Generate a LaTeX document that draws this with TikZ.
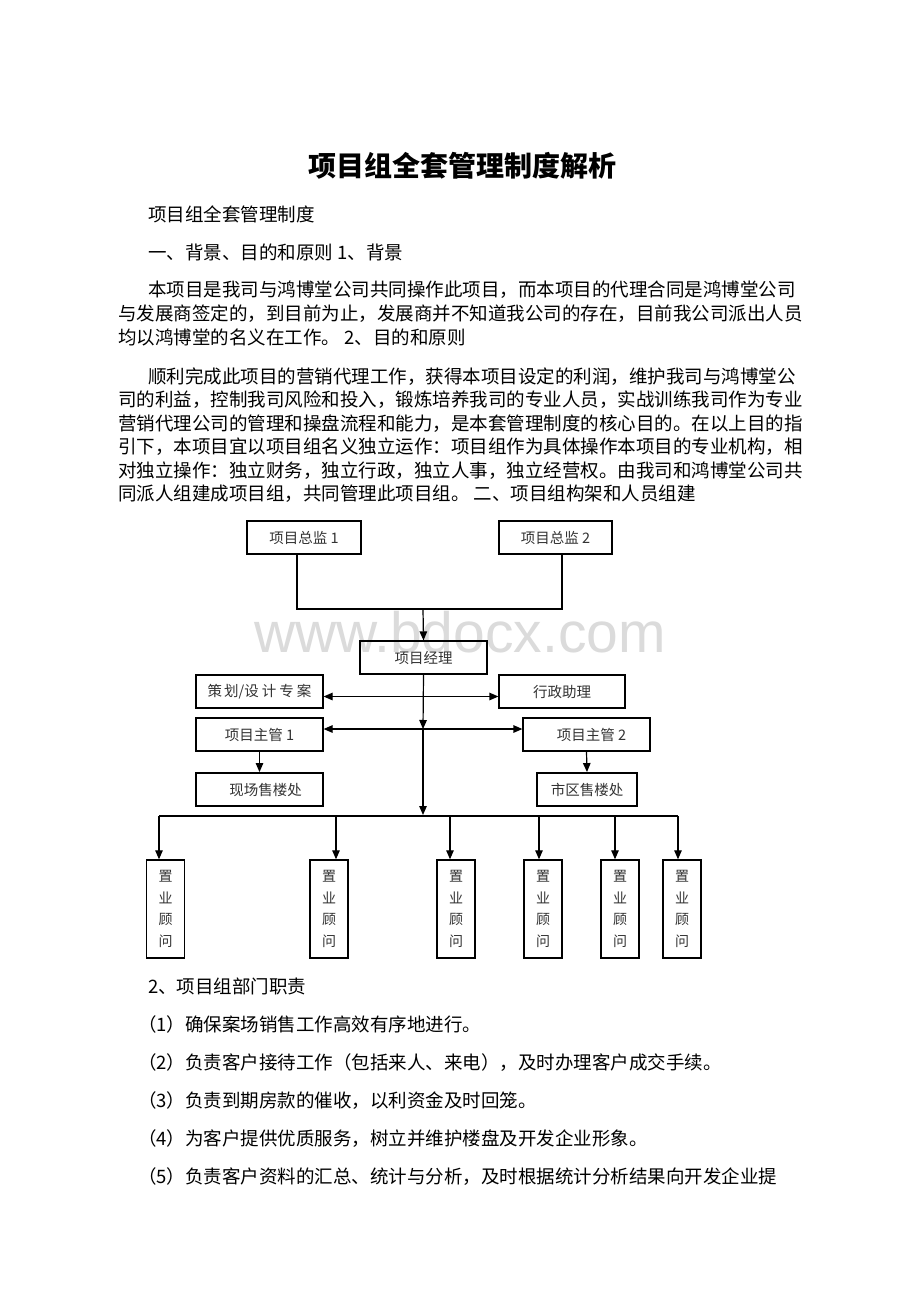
\documentclass[tikz,border=0pt]{standalone}
\usepackage{fontspec}
\setmainfont{Noto Sans CJK SC}
\newfontfamily\wmfont{Liberation Sans}
\usetikzlibrary{arrows.meta}
\begin{document}
\begin{tikzpicture}[x=1pt,y=-1pt,
  txt/.style={anchor=base west, inner sep=0pt, font=\fontsize{18.5}{20}\selectfont},
  box/.style={draw, line width=1.2pt, inner sep=0pt, minimum height=33pt,
              font=\fontsize{14.5}{16}\selectfont, text=black!80},
  boldbox/.style={box, line width=1.9pt},
  vbox/.style={draw, line width=1.4pt, inner sep=0pt, minimum width=38pt, minimum height=98pt,
               align=center, font=\fontsize{14}{21.7}\selectfont, text=black!80},
  ln/.style={line width=1.2pt},
  arr/.style={ln, -{Triangle[length=9pt,width=7.5pt]}},
  darr/.style={ln, {Triangle[length=9pt,width=7.5pt]}-{Triangle[length=9pt,width=7.5pt]}}]
\useasboundingbox (0,0) rectangle (920,1302);
\fill[white] (0,0) rectangle (920,1302);

% title
\node[anchor=base, inner sep=0pt, font=\fontsize{28}{30}\selectfont\bfseries] (title) at (462,176) {项目组全套管理制度解析};

% body text (baseline = visual centre + 7)
\node[txt] (l1) at (148,221) {项目组全套管理制度};
\node[txt] (l2) at (148,259) {一、背景、目的和原则 1、背景};
\node[txt] (p1a) at (148,296) {本项目是我司与鸿博堂公司共同操作此项目，而本项目的代理合同是鸿博堂公司};
\node[txt] (p1b) at (118,320) {与发展商签定的，到目前为止，发展商并不知道我公司的存在，目前我公司派出人员};
\node[txt] (p1c) at (118,344) {均以鸿博堂的名义在工作。 2、目的和原则};
\node[txt] (p2a) at (148,383) {顺利完成此项目的营销代理工作，获得本项目设定的利润，维护我司与鸿博堂公};
\node[txt] (p2b) at (118,406.5) {司的利益，控制我司风险和投入，锻炼培养我司的专业人员，实战训练我司作为专业};
\node[txt] (p2c) at (118,430) {营销代理公司的管理和操盘流程和能力，是本套管理制度的核心目的。在以上目的指};
\node[txt] (p2d) at (118,453.5) {引下，本项目宜以项目组名义独立运作：项目组作为具体操作本项目的专业机构，相};
\node[txt] (p2e) at (118,477) {对独立操作：独立财务，独立行政，独立人事，独立经营权。由我司和鸿博堂公司共};
\node[txt] (p2f) at (118,500.5) {同派人组建成项目组，共同管理此项目组。 二、项目组构架和人员组建};

\node[txt] (s2) at (148,993) {2、项目组部门职责};
\node[txt] (r1) at (138,1031) {（1）确保案场销售工作高效有序地进行。};
\node[txt] (r2) at (138,1069) {（2）负责客户接待工作（包括来人、来电），及时办理客户成交手续。};
\node[txt] (r3) at (138,1107) {（3）负责到期房款的催收，以利资金及时回笼。};
\node[txt] (r4) at (138,1145) {（4）为客户提供优质服务，树立并维护楼盘及开发企业形象。};
\node[txt] (r5) at (138,1183) {（5）负责客户资料的汇总、统计与分析，及时根据统计分析结果向开发企业提};

% watermark
\node[anchor=base, inner sep=0pt, text=black!14, font=\wmfont\fontsize{57}{60}\selectfont] (wm) at (460,652) {www.bdocx.com};

% chart boxes
\node[box, minimum width=114pt] (d1) at (304,537.5) {项目总监 1};
\node[box, minimum width=113pt] (d2) at (555.5,537.5) {项目总监 2};
\node[box, minimum width=127pt] (pm) at (423.5,657.5) {项目经理};
\node[box, minimum width=127pt] (ch) at (259.5,691.5) {策\hspace{2pt}划/设\hspace{3pt}计\hspace{3pt}专\hspace{3pt}案};
\node[box, minimum width=126pt] (xz) at (562,691.5) {行政助理};
\node[box, minimum width=127pt] (zg1) at (259.5,734.5) {项目主管 1};
\node[box, minimum width=127pt] (zg2) at (586.5,734.5) {\hspace{10pt}项目主管 2};
\node[boldbox, minimum width=127pt] (xc) at (259.5,789.5) {\hspace{12pt}现场售楼处};
\node[boldbox, minimum width=100pt] (sq) at (587,789.5) {市区售楼处};

\node[vbox] (c1) at (165.5,909) {置\\业\\顾\\问};
\node[vbox] (c2) at (329,909) {置\\业\\顾\\问};
\node[vbox] (c3) at (456,909) {置\\业\\顾\\问};
\node[vbox] (c4) at (543,909) {置\\业\\顾\\问};
\node[vbox] (c5) at (620,909) {置\\业\\顾\\问};
\node[vbox] (c6) at (682,909) {置\\业\\顾\\问};

% connector points
\coordinate (m) at (423,609);
\coordinate (mid) at (423,729);
\coordinate (bus) at (423,815);
\coordinate (t1) at (159,816);
\coordinate (t2) at (336,816);
\coordinate (t3) at (450,816);
\coordinate (t4) at (539,816);
\coordinate (t5) at (615,816);
\coordinate (t6) at (678,816);

% connectors
\draw[ln] ([xshift=-7pt]d1.south) |- (m) -| ([xshift=6.5pt]d2.south);
\draw[arr] (m) -- (pm.north);
\draw[darr] ([yshift=-5pt]ch.east) -- ([yshift=-5pt]xz.west);
\draw[darr] ([yshift=5.5pt]zg1.east) -- ([yshift=5.5pt]zg2.west);
\draw[arr] (pm.south) -- (mid);
\draw[arr] (mid) -- (bus);
\draw[arr] (zg1.south) -- (xc.north);
\draw[arr] (zg2.south) -- (sq.north);
\draw[ln] (t1) -- (t6);
\draw[arr] (t1) -- (t1 |- c1.north);
\draw[arr] (t2) -- (t2 |- c2.north);
\draw[arr] (t3) -- (t3 |- c3.north);
\draw[arr] (t4) -- (t4 |- c4.north);
\draw[arr] (t5) -- (t5 |- c5.north);
\draw[arr] (t6) -- (t6 |- c6.north);
\end{tikzpicture}
\end{document}
